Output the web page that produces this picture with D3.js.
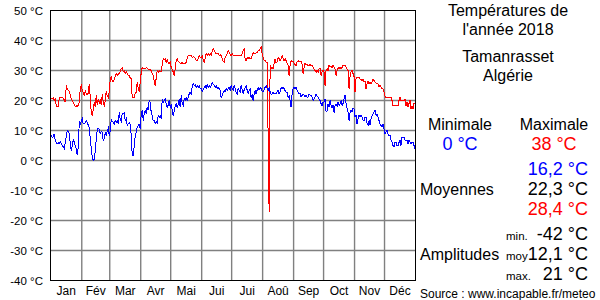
<!DOCTYPE html>
<html><head><meta charset="utf-8">
<script src="https://cdn.jsdelivr.net/npm/d3@7"></script>
<style>body{margin:0;background:#fff}svg{display:block;font-family:"Liberation Sans",Arial,sans-serif}</style>
</head><body><svg id="c" width="600" height="300"></svg>
<script>
const months = ["Jan","Fév","Mar","Avr","Mai","Jui","Jui","Aoû","Sep","Oct","Nov","Déc"];
const monthDays = [31,28,31,30,31,30,31,31,30,31,30,31];
const yTicks = [50,40,30,20,10,0,-10,-20,-30,-40];
const tmax = [
20.6,20.6,21,20,20.5,18.1,18.1,18.1,20.9,21,
20.9,21,20.8,20.2,19.5,25,24,23.3,23,21.7,
20.6,20,19.4,18.5,18,18.2,18,18.5,19.4,24,
25,23.5,22.5,21.5,23.3,22.2,22,22.5,25.6,21,
16,14.7,17.2,19.4,18,21.7,18.5,20.5,19,20,
18.5,22,19.5,18,20,23.3,21.5,21,23,27.2,
27.8,26.5,26.5,27,28,29,28.4,28.8,29,29.8,
30.6,30.8,29.5,30,29,29.6,29,28.5,28.4,27.5,
27.2,21,21,21,22.5,22.8,26.1,24,23,26,
29.4,31,30.6,30.8,30.5,31,30.8,30.3,30.5,30.2,
30,29,28.3,26.5,25,27.5,30,29.4,30,29.5,
29.6,32,33.9,33.5,33.9,32.8,33.5,32.8,32.2,32.8,
31,30.5,29.5,28.3,30.5,33.3,33.9,33,32.8,32.5,
32.2,32.8,32.2,32.5,32.2,32.8,34,35,35,35,
35,34.4,34.6,34.4,34,33.5,33.3,34,35,34.4,
34.4,35,33.5,32.8,34,35.6,35,35.6,35,35.6,
35,36.5,37.4,36.7,36,35.6,35.6,35.6,35,35.3,
35,34,33,32.8,34.5,35,35.6,36.7,36,35.3,
35,35.6,35,35,35,35,35,35,35,35,
35,35.5,36.7,37,33.9,33.3,34.4,34,34.4,33.9,
34,35,36,35.6,35.6,35.8,36,36.7,36.7,37.3,
37.8,35.5,34.4,33.3,33.5,32.8,32.8,8.3,-17,31.7,
30.6,31,30.6,32.5,33.9,32.5,33,34.4,33.9,33.3,
33.9,35,34,33.3,33.9,33.3,32.5,31.7,28.3,31.7,
33.3,32.8,33,32.5,31.9,31.7,32.8,33.3,33,32.8,
33,32,29,31,32.5,32,32.2,31.5,31.7,32.2,
31.5,31.7,31,30.5,30,29.4,30,29.4,30.5,30.6,
28.3,29.5,30,29.5,25,30,30.6,30,31.9,31.2,
31.5,31,31.7,31,30.5,28.3,30,31,30.6,31,
30.6,31,31.9,31.5,31.9,31.2,30.5,30,23.9,28,
29.5,30,29,28,22.8,27.5,27.8,27.5,27.8,27.2,
27,26.7,27,26.1,26.5,23.9,25.5,26.5,25.6,26,
25.6,26.1,27.2,26.7,26.1,25.8,25.6,25.6,24.4,25,
24.4,23.9,23.9,22.8,21.5,21,21.1,21,21,21,
21,20,18.3,18.3,18.3,18.3,18.3,18.3,20,21,
20,19.9,20,20,20.5,18.3,19.5,17.7,19,20.2,
17.2,18,17.2,19,19
];
const tmin = [
8.3,7.7,8,8.9,6.6,6,5.6,6,5.6,6.2,
5.8,5,4.5,4,6.2,8,10,9.5,8.9,5.8,
3.3,5,7.2,6,5,3.9,1.7,4.5,12.8,12.2,
13,13.9,12.2,12.2,12.5,13.3,12.8,11.7,11.1,7,
3.9,1,0,0.5,3.2,7,10.3,10.8,10.3,8.9,
9.7,9.4,6.6,7.5,9.4,8.3,10,10.8,8.3,10,
13.9,13,12.8,12.2,13.3,12.8,13.3,12.2,16.1,13.5,
13,15.8,15.6,15.8,13.3,13.9,11.7,12.2,12.5,12,
8.3,1.7,1.7,5,8.3,9.4,11.1,11.7,12,10.6,
15.6,16.7,13.3,15.8,16.7,15.8,17.8,16.7,20,19.4,
16,15,13.3,13.3,12.2,13,12.5,15,14.4,15,
14,20.6,19.4,20,20.6,18.9,17.8,18.5,20,17.8,
18.5,16.7,15,16.5,18,18.9,17.8,18.5,20.6,17.8,
21.7,19,18.3,20.6,20,21.1,20,21,22.2,22.8,
22.2,24.4,25.6,25,25.3,24.4,25,24.4,25,24,
23.9,23,23.5,24.4,25,24,25.3,24.4,25,24.4,
25,26.1,25.5,25,24.4,25,23.9,24.4,23.9,23.3,
21,21.5,22.8,23.3,23,23.9,23.3,23.9,24.4,23.5,
25,23.9,23.3,25,23.9,22.8,22.2,23.9,23.3,22.8,
25,23.5,22.2,23.5,24.4,25,23.5,22.2,23.3,23.9,
21,22,19.9,22,23.3,22.2,23.5,24.4,23.5,24.4,
23.9,23,22.8,23.5,24.4,25,24,23.3,24.4,22.8,
22,22.2,22.8,22.2,22.5,22.2,23,23.3,22.2,22.8,
24.4,24,24.4,23.9,23.3,22.8,22.8,21,21.5,19.9,
17.8,22.2,23.9,24.4,23.9,24.4,23.3,22.8,22.2,22.5,
21.1,21.7,22.2,21.7,21.1,21.7,21.1,21.1,22.2,21.7,
21.7,21.1,20,20.5,21.1,22.2,21.5,21.1,20.5,20,
18.9,18.3,19.4,19.5,20.5,16.1,16.5,18.9,17.8,20,
18.3,17.5,18.5,16,18.3,18.9,18,19.4,18.3,18.9,
20,18.3,19,20.6,21.9,18.9,17.5,16.1,13.3,16.1,
16.7,16.1,17.5,17.2,14.5,15,12.2,14,15,14.4,
15,14.5,13.5,13.3,14.4,14.4,12.5,11.7,13.3,11.7,
13.9,15,15.6,16.1,16.7,15,15.6,14.5,13.3,12.2,
11.7,11.1,12,10.6,8.9,9.5,10,8.9,8.3,8.5,
6.7,6.1,5,4.4,6,6.1,5,5,6,6.7,
5,7.8,7.8,7.8,6.7,6.7,6.7,5.6,6.7,6.1,
5.6,6,6.1,5,3.9
];
const titleLines = ["Températures de","l'année 2018","Tamanrasset","Algérie"];
const extremeLabels = ["Minimale","Maximale"];
const extremeValues = ["0 °C","38 °C"];
const meanLabel = "Moyennes";
const meanValues = ["16,2 °C","22,3 °C","28,4 °C"];
const ampLabel = "Amplitudes";
const ampSubLabels = ["min.","moy","max."];
const ampValues = ["-42 °C","12,1 °C","21 °C"];
const sourceText = "Source : www.incapable.fr/meteo";

const svg = d3.select("#c");
const L = 50.5, R = 415.5, T = 10.5, B = 280.5;
const x = d3.scaleLinear().domain([0,365]).range([L+0.3, R]);
const y = d3.scaleLinear().domain([50,-40]).range([T, B]);
const monthStarts = monthDays.reduce((a,d)=>{a.push(a[a.length-1]+d);return a;},[0]);

// grid
const g = svg.append("g");
g.selectAll("line.h").data(yTicks.slice(1,-1)).join("line")
  .attr("x1",L).attr("x2",R).attr("y1",d=>y(d)).attr("y2",d=>y(d))
  .attr("stroke","#808080").attr("stroke-width",1.4);
g.selectAll("line.v").data(monthStarts.slice(1,-1)).join("line")
  .attr("x1",d=>x(d)).attr("x2",d=>x(d)).attr("y1",T).attr("y2",B)
  .attr("stroke","#808080").attr("stroke-width",1.4);

// lines
const line = d3.line().x((d,i)=>x(i+0.5)).y(d=>y(d));
svg.append("path").datum(tmax).attr("d",line).attr("fill","none").attr("stroke","#ff0000").attr("stroke-width",1).attr("shape-rendering","crispEdges");
svg.append("path").datum(tmin).attr("d",line).attr("fill","none").attr("stroke","#0000ff").attr("stroke-width",1).attr("shape-rendering","crispEdges");

// frame
svg.append("rect").attr("x",L).attr("y",T).attr("width",R-L).attr("height",B-T)
  .attr("fill","none").attr("stroke","#000").attr("stroke-width",1);

// y labels
svg.selectAll("text.yl").data(yTicks).join("text")
  .attr("x",43).attr("y",d=>y(d)+4.5).attr("text-anchor","end")
  .attr("font-size",11.5).attr("fill","#000").text(d=>d+" °C");

// month labels
svg.selectAll("text.ml").data(months).join("text")
  .attr("x",(d,i)=>x((monthStarts[i]+monthStarts[i+1])/2)).attr("y",295)
  .attr("text-anchor","middle").attr("font-size",12).attr("fill","#000").text(d=>d);

// right panel
const tY = [16,35,62,81];
svg.selectAll("text.tt").data(titleLines).join("text")
  .attr("x",508).attr("y",(d,i)=>tY[i]).attr("text-anchor","middle")
  .attr("font-size",16).attr("fill","#000").text(d=>d);
const exX = [460,554];
svg.selectAll("text.el").data(extremeLabels).join("text")
  .attr("x",(d,i)=>exX[i]).attr("y",130).attr("text-anchor","middle")
  .attr("font-size",16).attr("fill","#000").text(d=>d);
svg.selectAll("text.ev").data(extremeValues).join("text")
  .attr("x",(d,i)=>exX[i]).attr("y",150).attr("text-anchor","middle")
  .attr("font-size",18).attr("fill",(d,i)=>i?"#ff0000":"#0000ff").text(d=>d);
svg.append("text").attr("x",420).attr("y",195).attr("font-size",16).attr("fill","#000").text(meanLabel);
const mY = [175,195,215], mC = ["#0000ff","#000","#ff0000"];
svg.selectAll("text.mv").data(meanValues).join("text")
  .attr("x",588).attr("y",(d,i)=>mY[i]).attr("text-anchor","end")
  .attr("font-size",18).attr("fill",(d,i)=>mC[i]).text(d=>d);
svg.append("text").attr("x",420).attr("y",260).attr("font-size",16).attr("fill","#000").text(ampLabel);
const aY = [240,260,280];
svg.selectAll("text.as").data(ampSubLabels).join("text")
  .attr("x",506).attr("y",(d,i)=>aY[i]).attr("font-size",11.5).attr("fill","#000").text(d=>d);
svg.selectAll("text.av").data(ampValues).join("text")
  .attr("x",588).attr("y",(d,i)=>aY[i]).attr("text-anchor","end")
  .attr("font-size",18).attr("fill","#000").text(d=>d);
svg.append("text").attr("x",420).attr("y",298).attr("font-size",12).attr("fill","#000").text(sourceText);
</script></body></html>
